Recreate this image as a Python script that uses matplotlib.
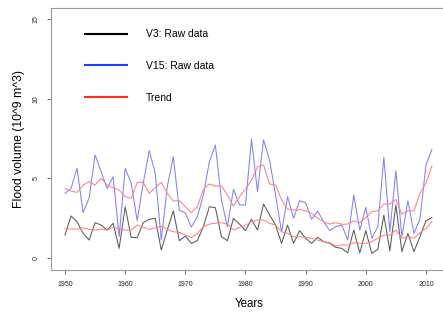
import matplotlib.pyplot as plt
from matplotlib.lines import Line2D

plt.rcParams['font.family'] = ['Liberation Sans', 'DejaVu Sans']

years = list(range(1950, 2012))

v3 = [1.44, 2.64, 2.28, 1.55, 1.13, 2.22, 2.07, 1.76, 2.18, 0.61,
      3.22, 1.30, 1.28, 2.22, 2.43, 2.49, 0.50, 1.76, 2.97, 1.09,
      1.38, 0.92, 1.09, 1.97, 3.22, 3.16, 1.34, 1.09, 2.49, 2.13,
      1.72, 2.43, 1.76, 3.39, 2.70, 2.07, 0.92, 2.07, 0.92, 1.72,
      1.24, 0.92, 1.30, 1.03, 0.92, 0.67, 0.61, 0.33, 1.76, 0.33,
      1.72, 0.29, 0.55, 2.70, 0.46, 3.33, 0.40, 1.55, 0.40, 1.34,
      2.34, 2.53]

v15 = [4.06, 4.37, 5.63, 2.85, 3.75, 6.47, 5.42, 4.37, 5.10, 1.34,
       5.63, 4.69, 2.34, 4.69, 6.74, 5.32, 1.13, 4.48, 6.36, 3.00,
       2.83, 1.95, 2.59, 3.95, 6.05, 7.09, 3.64, 1.97, 4.31, 3.33,
       3.33, 7.45, 4.16, 7.41, 6.15, 3.95, 1.65, 3.85, 2.49, 3.60,
       3.47, 2.43, 2.95, 2.28, 1.72, 1.97, 2.07, 1.13, 3.95, 1.76,
       3.18, 1.24, 1.97, 6.32, 1.65, 5.48, 1.34, 3.60, 1.55, 2.43,
       5.84, 6.82]

trend_v3 = [1.86, 1.82, 1.82, 1.90, 1.80, 1.76, 1.82, 1.76, 1.93, 1.82,
            1.76, 1.76, 2.07, 1.93, 1.80, 1.90, 2.00, 1.80, 1.65, 1.61,
            1.44, 1.28, 1.55, 1.97, 2.13, 2.18, 2.22, 2.12, 1.76, 1.93,
            2.05, 2.28, 2.39, 2.39, 2.18, 2.07, 1.65, 1.55, 1.34, 1.34,
            1.30, 1.24, 1.13, 1.03, 0.96, 0.75, 0.82, 0.82, 0.96, 0.92,
            0.92, 1.03, 1.24, 1.44, 1.44, 1.76, 1.24, 1.34, 1.24, 1.59,
            1.86, 2.28]

trend_v15 = [4.37, 4.20, 4.12, 4.58, 4.79, 4.58, 5.00, 4.58, 4.41, 4.27,
             3.85, 3.75, 4.75, 4.75, 4.06, 4.44, 4.75, 4.06, 3.58, 3.60,
             3.22, 2.85, 3.22, 4.31, 4.65, 4.52, 4.54, 3.95, 3.26, 3.85,
             4.32, 4.90, 5.73, 5.84, 4.65, 4.58, 3.64, 3.08, 3.01, 3.04,
             2.97, 2.80, 2.49, 2.28, 2.13, 2.22, 2.12, 2.13, 2.34, 2.22,
             2.55, 2.91, 2.97, 3.39, 3.39, 3.68, 2.76, 2.97, 2.97, 4.06,
             4.69, 5.78]

labels = ['V3: Raw data', 'V15: Raw data', 'Trend']

fig = plt.figure(figsize=(4.43, 3.12), dpi=100)
ax = fig.add_axes([51/443, 42/312, 396/443, 262/312])

ax.plot(years, v3, color='#5a5a5a', lw=0.75)
ax.plot(years, v15, color='#8080ff', lw=0.75)
ax.plot(years, trend_v3, color='#ff8080', lw=0.75)
ax.plot(years, trend_v15, color='#ff8080', lw=0.75)

ax.set_xlim(1947.67, 2013.5)
ax.set_ylim(-0.75, 15.69)
ax.set_xticks(range(1950, 2011, 10))
ax.set_yticks([0, 5, 10, 15])
for s in ax.spines.values():
    s.set_color('#999999')
    s.set_linewidth(0.8)
ax.tick_params(colors='#555555', labelsize=5.0, length=3, width=0.6, pad=5,
               labelcolor='#222222')
for lab in ax.get_yticklabels():
    lab.set_rotation(90)
    lab.set_va('center')

ax.set_xlabel('Years', fontsize=8.3, labelpad=7)
ax.set_ylabel('Flood volume (10^9 m^3)', fontsize=8.8, labelpad=6)

handles = [Line2D([], [], color=c, lw=1.5) for c in ['black', '#2040ff', '#ff3020']]
ax.legend(handles, labels, loc='upper left', bbox_to_anchor=(0.063, 0.955),
          frameon=False, fontsize=7.5, handlelength=4, handletextpad=1.8,
          labelspacing=2.1)

fig.savefig('out.png', dpi=100)
